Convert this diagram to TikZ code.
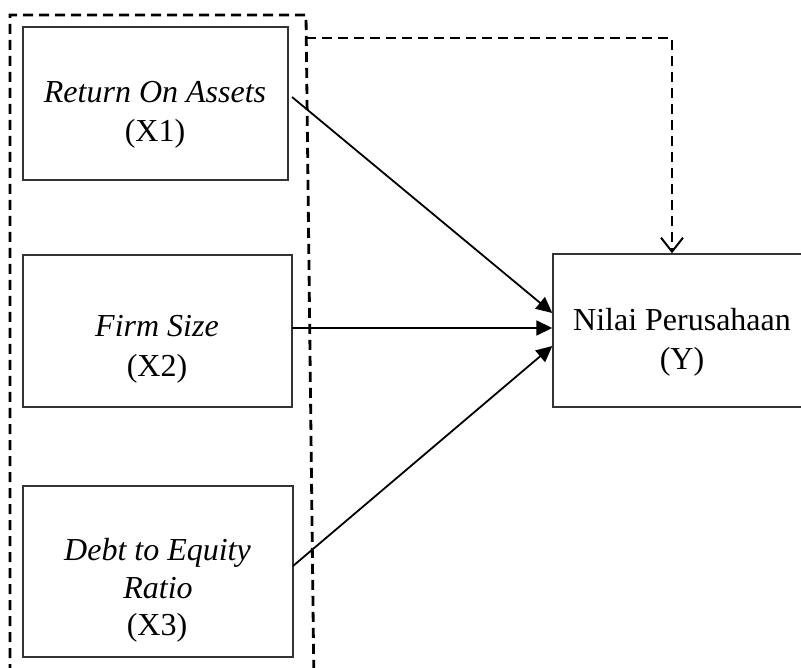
\documentclass[tikz,border=0pt]{standalone}
\usepackage{fontspec}
\setmainfont{Liberation Serif}
\usetikzlibrary{arrows.meta}
\begin{document}
\begin{tikzpicture}[x=1pt,y=-1pt,
  box/.style={draw=black!80,line width=1.4pt,inner sep=0pt},
  lbl/.style={anchor=base,inner sep=0pt,font=\fontsize{32}{38}\selectfont},
  dsh/.style={line width=2.8pt,dash pattern=on 10pt off 6pt},
  arr/.style={line width=1.8pt,-{Triangle[length=16pt,width=15pt]}}]
\clip (0,0) rectangle (801,668);
\fill[white] (0,0) rectangle (801,668);
% boxes
\node[box,minimum width=265pt,minimum height=153pt] (x1) at (155.5,103.5) {};
\node[box,minimum width=269pt,minimum height=152pt] (x2) at (157.5,331) {};
\node[box,minimum width=270pt,minimum height=171pt] (x3) at (158,571.5) {};
\node[box,minimum width=267pt,minimum height=153pt] (y) at (686.5,330.5) {};
% texts
\node[lbl] (t1a) at (155,103) {\itshape Return On Assets};
\node[lbl] (t1b) at (155,142) {(X1)};
\node[lbl] (t2a) at (157,337) {\itshape Firm Size};
\node[lbl] (t2b) at (157,377) {(X2)};
\node[lbl] (t3a) at (157.5,560) {\itshape Debt to Equity};
\node[lbl] (t3b) at (158,598) {\itshape Ratio};
\node[lbl] (t3c) at (157,635) {(X3)};
\node[lbl] (tya) at (682,331) {Nilai Perusahaan};
\node[lbl] (tyb) at (682,370) {(Y)};
% outer dashed group
\coordinate (gbl) at (10,690);
\coordinate (gtl) at (10,15);
\coordinate (gtr) at (306,15);
\coordinate (gbr) at (314,690);
\draw[dsh] (gbl) -- (gtl) -- (gtr) -- (gbr);
% dashed path to Y
\coordinate (ds) at (306,38);
\coordinate (dc) at (672,38);
\draw[dsh,-{Straight Barb[length=14pt,width=22pt,line width=2pt]}] (ds) -- (dc) -- (dc |- y.north);
% arrows
\coordinate (s1) at (292,97);
\coordinate (s2) at (292,328);
\coordinate (s3) at (293,566);
\draw[arr] (s1) -- (y.west |- 0,313);
\draw[arr] (s2) -- (y.west |- 0,328);
\draw[arr] (s3) -- (y.west |- 0,346);
\end{tikzpicture}
\end{document}
